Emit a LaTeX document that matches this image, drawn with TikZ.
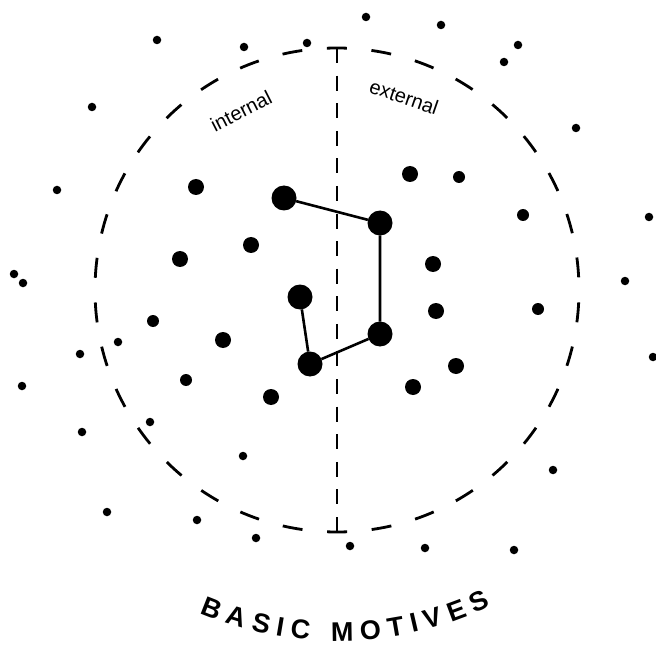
\documentclass[tikz,border=0pt]{standalone}
\usepackage{fontspec}
\setsansfont{Liberation Sans}
\usetikzlibrary{decorations.text}

\begin{document}
\begin{tikzpicture}[
  x=1pt, y=-1pt,
  dot/.style={circle, fill=black, inner sep=0pt, outer sep=0pt},
  big/.style={dot, minimum size=25pt},
  mid/.style={dot, minimum size=16pt},
  sml/.style={dot, minimum size=12pt},
  tiny/.style={dot, minimum size=8.5pt},
  link/.style={line width=2.6pt},
  ring/.style={line width=2.8pt, dash pattern=on 20pt off 24.72pt, dash phase=32.36pt},
  split/.style={line width=2.4pt, dash pattern=on 15pt off 12.59pt},
  side/.style={font=\sffamily\fontsize{20}{24}\selectfont, inner sep=0pt}
]
  \useasboundingbox (0,0) rectangle (656,647);

  % Ring and divider
  \draw[ring] (337,290) circle[radius=242];
  \coordinate (top) at (337,48);
  \coordinate (bot) at (337,532);
  \draw[split] (top) -- (bot);

  % Side labels
  \node[side, rotate=27] (lin) at (241,111) {internal};
  \node[side, rotate=-19] (lex) at (404,97) {external};

  % Motive chain
  \node[big] (m1) at (284,198) {};
  \node[big] (m2) at (380,223) {};
  \node[big] (m3) at (380,334) {};
  \node[big] (m4) at (310,364) {};
  \node[big] (m5) at (300,297) {};
  \draw[link] (m1) -- (m2) -- (m3) -- (m4) -- (m5);

  % Inner dots, left half
  \node[mid] (i1) at (196,187) {};
  \node[mid] (i2) at (251,245) {};
  \node[mid] (i3) at (180,259) {};
  \node[sml] (i4) at (153,321) {};
  \node[mid] (i5) at (223,340) {};
  \node[sml] (i6) at (186,380) {};
  \node[mid] (i7) at (271,397) {};

  % Inner dots, right half
  \node[mid] (e1) at (410,174) {};
  \node[sml] (e2) at (459,177) {};
  \node[sml] (e3) at (523,215) {};
  \node[mid] (e4) at (433,264) {};
  \node[mid] (e5) at (436,311) {};
  \node[sml] (e6) at (538,309) {};
  \node[mid] (e7) at (456,366) {};
  \node[mid] (e8) at (413,387) {};

  % Outer dots
  \node[tiny] (o1)  at (157,40)  {};
  \node[tiny] (o2)  at (244,47)  {};
  \node[tiny] (o3)  at (307,43)  {};
  \node[tiny] (o4)  at (92,107)  {};
  \node[tiny] (o5)  at (57,190)  {};
  \node[tiny] (o6)  at (14,274)  {};
  \node[tiny] (o7)  at (23,283)  {};
  \node[tiny] (o8)  at (366,17)  {};
  \node[tiny] (o9)  at (441,25)  {};
  \node[tiny] (o10) at (518,45)  {};
  \node[tiny] (o11) at (504,62)  {};
  \node[tiny] (o12) at (576,128) {};
  \node[tiny] (o13) at (649,217) {};
  \node[tiny] (o14) at (625,281) {};
  \node[tiny] (o15) at (118,342) {};
  \node[tiny] (o16) at (80,354)  {};
  \node[tiny] (o17) at (22,386)  {};
  \node[tiny] (o18) at (150,422) {};
  \node[tiny] (o19) at (82,432)  {};
  \node[tiny] (o20) at (243,456) {};
  \node[tiny] (o21) at (107,512) {};
  \node[tiny] (o22) at (197,520) {};
  \node[tiny] (o23) at (256,538) {};
  \node[tiny] (o24) at (653,357) {};
  \node[tiny] (o25) at (553,470) {};
  \node[tiny] (o26) at (350,546) {};
  \node[tiny] (o27) at (425,548) {};
  \node[tiny] (o28) at (514,550) {};

  % Title
  \path[decorate, decoration={text along path, text align=fit to path,
        text={|\sffamily\bfseries\fontsize{27}{32}\selectfont|BASIC MOTIVES}}]
    (337,290) ++(113:351) arc[start angle=113, end angle=64, radius=351];
\end{tikzpicture}
\end{document}
